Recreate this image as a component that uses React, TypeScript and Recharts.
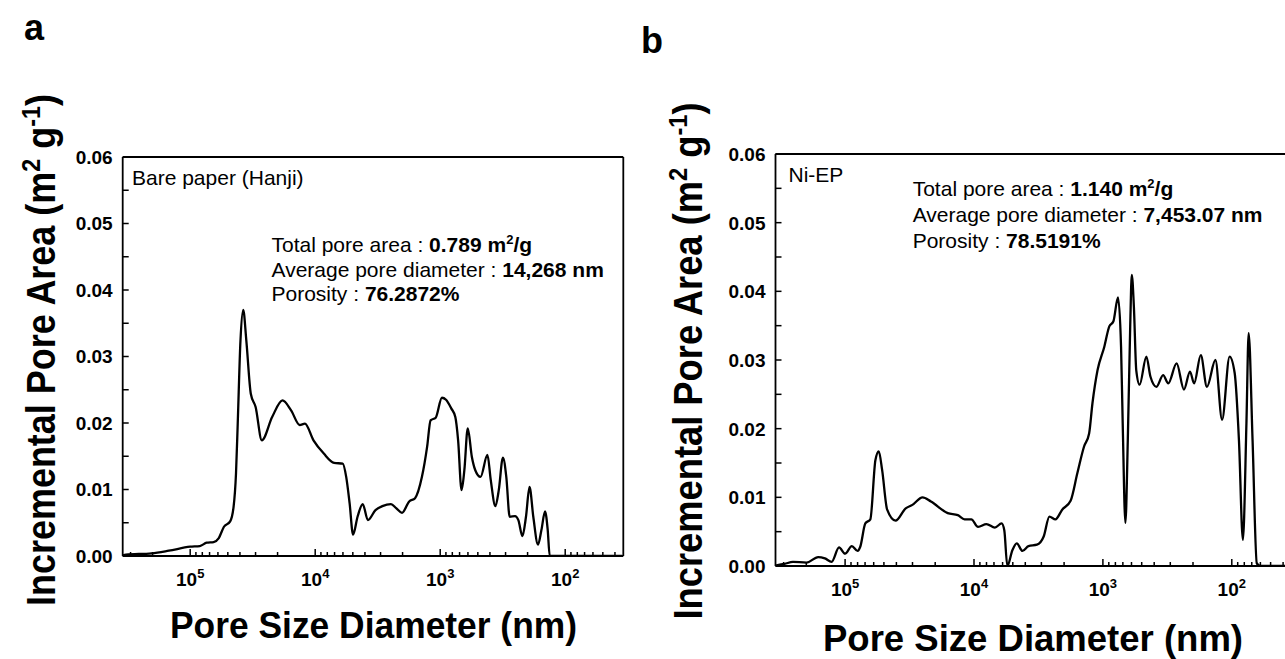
import { Line, LineChart, ReferenceLine, XAxis, YAxis } from "recharts";

const FONT = '"Liberation Sans", Arial, Helvetica, sans-serif';

// pore diameter (nm), listed left to right on the reversed log axis
const HANJI_DIAM = [
  345000, 327000, 203500, 148200, 100000, 83770, 73770, 64960, 59050, 53700,
  47900, 44970, 43010, 41670, 39610, 37650, 35560, 32750, 29970, 26730, 22100,
  18270, 15590, 13300, 12090, 10320, 8533, 7055, 6020, 5650, 5303, 4977, 4584,
  4167, 3789, 3295, 2902, 2477, 2252, 2022, 1770, 1589, 1400, 1273, 1194, 1086,
  969, 898, 816, 757, 719, 675, 641, 602, 558, 524, 476, 419, 394, 362, 340,
  315, 296, 278, 252, 237, 220, 206, 193, 180, 165, 155, 145, 138, 133, 35,
];
const HANJI_AREA = [
  0.0001, 0.0002, 0.0004, 0.0008, 0.0014, 0.0015, 0.002, 0.0021, 0.0027,
  0.0044, 0.0052, 0.0074, 0.0124, 0.0199, 0.0324, 0.037, 0.0324, 0.0244,
  0.0224, 0.0174, 0.0209, 0.0234, 0.0219, 0.0197, 0.0199, 0.0174, 0.0154,
  0.014, 0.0139, 0.0119, 0.0079, 0.0032, 0.0059, 0.0078, 0.0054, 0.0069,
  0.0075, 0.0078, 0.0072, 0.0065, 0.0082, 0.0087, 0.0119, 0.0164, 0.0204,
  0.0208, 0.0238, 0.0235, 0.0222, 0.0209, 0.0174, 0.0099, 0.0129, 0.0192,
  0.0149, 0.0129, 0.0119, 0.0152, 0.0114, 0.0075, 0.0099, 0.0148, 0.0119,
  0.0059, 0.006, 0.0054, 0.003, 0.0059, 0.0104, 0.0059, 0.0017, 0.0039,
  0.0067, 0.0039, 0, 0,
];

const NIEP_DIAM = [
  342900, 295100, 253900, 199700, 161800, 143500, 127200, 111400, 100000,
  88670, 80040, 76290, 69700, 63710, 58210, 54820, 51620, 47160, 40590, 33880,
  30050, 25090, 21590, 15990, 13350, 11830, 10490, 9305, 8004, 6889, 6107,
  5821, 5514, 5038, 4660, 4207, 3776, 3249, 2880, 2601, 2334, 2070, 1781,
  1579, 1400, 1279, 1205, 1101, 976, 892, 830, 763, 723, 702, 669, 641, 614,
  597, 575, 551, 519, 460, 428, 384, 341, 311, 268, 235, 211, 196, 174, 156,
  134, 119, 104, 95, 88, 82, 77, 74, 69, 64, 60, 35,
];
const NIEP_AREA = [
  0.0001, 0.0003, 0.0006, 0.0005, 0.0013, 0.0011, 0.0006, 0.0027, 0.0018,
  0.0029, 0.0022, 0.0028, 0.0062, 0.0068, 0.0154, 0.0167, 0.014, 0.0082,
  0.0066, 0.0084, 0.0089, 0.01, 0.0094, 0.0077, 0.0074, 0.0068, 0.0068,
  0.0057, 0.0061, 0.0056, 0.0062, 0.0052, 0, 0.0023, 0.0033, 0.0022, 0.0029,
  0.0031, 0.0043, 0.0072, 0.0068, 0.0082, 0.0095, 0.0135, 0.0174, 0.0193,
  0.0237, 0.0285, 0.0319, 0.0349, 0.0356, 0.0391, 0.0319, 0.0208, 0.0063,
  0.0183, 0.0349, 0.0424, 0.0378, 0.0285, 0.0264, 0.0305, 0.0276, 0.0261,
  0.0278, 0.0266, 0.0295, 0.0257, 0.0283, 0.0266, 0.0307, 0.0261, 0.03,
  0.0213, 0.0305, 0.0281, 0.0183, 0.0038, 0.0208, 0.0339, 0.0183, 0.0004, 0, 0,
];

const X_DOMAIN = [34.3, 346700];
const X_TICKS = [
  40, 50, 60, 70, 80, 90, 100, 200, 300, 400, 500, 600, 700, 800, 900, 1000,
  2000, 3000, 4000, 5000, 6000, 7000, 8000, 9000, 10000, 20000, 30000, 40000,
  50000, 60000, 70000, 80000, 90000, 100000, 200000, 300000,
];
const X_MAJOR = [100, 1000, 10000, 100000];
const Y_TICKS = [
  0, 0.005, 0.01, 0.015, 0.02, 0.025, 0.03, 0.035, 0.04, 0.045, 0.05, 0.055,
  0.06,
];

const toRows = (diam: number[], area: number[]) =>
  diam.map((d, i) => ({ d, v: area[i] }));

function XTick({ x, y, payload }: any) {
  const v = payload.value;
  const major = X_MAJOR.includes(v);
  return (
    <g>
      <line x1={x} x2={x} y1={y} y2={y - (major ? 7 : 4)} stroke="#000" strokeWidth={1.5} />
      {major && (
        <text x={x} y={y + 30} textAnchor="middle" fontSize={19} fontWeight="bold" fontFamily={FONT} fill="#000">
          10
          <tspan dy={-8} fontSize={13}>
            {Math.round(Math.log10(v))}
          </tspan>
        </text>
      )}
    </g>
  );
}

function YTick({ x, y, payload }: any) {
  const v = payload.value;
  const major = Math.round(v * 1000) % 10 === 0;
  return (
    <g>
      <line x1={x} x2={x + 6} y1={y} y2={y} stroke="#000" strokeWidth={1.5} />
      {major && (
        <text x={x - 10} y={y} dy="0.36em" textAnchor="end" fontSize={19} fontWeight="bold" fontFamily={FONT} fill="#000">
          {v.toFixed(2)}
        </text>
      )}
    </g>
  );
}

type PanelProps = {
  rows: { d: number; v: number }[];
  width: number;
  margin: { top: number; right: number; bottom: number; left: number };
};

function PorePanel({ rows, width, margin }: PanelProps) {
  return (
    <LineChart width={width} height={659} data={rows} margin={margin}>
      <XAxis
        dataKey="d"
        type="number"
        scale="log"
        domain={X_DOMAIN}
        allowDataOverflow
        reversed
        ticks={X_TICKS}
        interval={0}
        tickSize={0}
        tickMargin={0}
        height={30}
        tick={<XTick />}
        axisLine={{ stroke: "#000", strokeWidth: 1.8 }}
      />
      <YAxis
        type="number"
        domain={[0, 0.06]}
        allowDataOverflow
        ticks={Y_TICKS}
        interval={0}
        tickSize={0}
        tickMargin={0}
        width={60}
        tick={<YTick />}
        axisLine={{ stroke: "#000", strokeWidth: 1.8 }}
      />
      <ReferenceLine y={0.06} stroke="#000" strokeWidth={1.8} />
      <ReferenceLine x={X_DOMAIN[0]} stroke="#000" strokeWidth={1.8} />
      <Line
        dataKey="v"
        type="monotone"
        stroke="#000"
        strokeWidth={2.3}
        dot={false}
        activeDot={false}
        isAnimationActive={false}
      />
    </LineChart>
  );
}

const TXT = { fontFamily: FONT, fill: "#000" };

function Notes() {
  return (
    <svg width={1285} height={659} style={{ position: "absolute", left: 0, top: 0, pointerEvents: "none" }}>
      <g {...TXT} fontWeight="bold">
        <text x={24} y={40} fontSize={36}>a</text>
        <text x={641} y={53} fontSize={36}>b</text>

        <text transform="translate(55,350) rotate(-90)" textAnchor="middle" fontSize={40} textLength={512} lengthAdjust="spacingAndGlyphs">
          Incremental Pore Area (m<tspan dy={-15} fontSize={26}>2</tspan>
          <tspan dy={15}> g</tspan>
          <tspan dy={-15} fontSize={26}>-1</tspan>
          <tspan dy={15}>)</tspan>
        </text>
        <text transform="translate(702,361) rotate(-90)" textAnchor="middle" fontSize={40} textLength={517} lengthAdjust="spacingAndGlyphs">
          Incremental Pore Area (m<tspan dy={-15} fontSize={26}>2</tspan>
          <tspan dy={15}> g</tspan>
          <tspan dy={-15} fontSize={26}>-1</tspan>
          <tspan dy={15}>)</tspan>
        </text>

        <text x={373.5} y={638} textAnchor="middle" fontSize={36} textLength={407} lengthAdjust="spacingAndGlyphs">
          Pore Size Diameter (nm)
        </text>
        <text x={1033} y={651} textAnchor="middle" fontSize={36} textLength={420} lengthAdjust="spacingAndGlyphs">
          Pore Size Diameter (nm)
        </text>
      </g>

      <g {...TXT} fontSize={21}>
        <text x={132} y={185}>Bare paper (Hanji)</text>
        <text x={271.5} y={251.7}>
          Total pore area : <tspan fontWeight="bold">0.789 m</tspan>
          <tspan fontWeight="bold" fontSize={13} dy={-8}>2</tspan>
          <tspan fontWeight="bold" dy={8}>/g</tspan>
        </text>
        <text x={271.5} y={276.5}>
          Average pore diameter : <tspan fontWeight="bold">14,268 nm</tspan>
        </text>
        <text x={271.5} y={301.3}>
          Porosity : <tspan fontWeight="bold">76.2872%</tspan>
        </text>

        <text x={788.5} y={182}>Ni-EP</text>
        <text x={912.7} y={196}>
          Total pore area : <tspan fontWeight="bold">1.140 m</tspan>
          <tspan fontWeight="bold" fontSize={13} dy={-8}>2</tspan>
          <tspan fontWeight="bold" dy={8}>/g</tspan>
        </text>
        <text x={912.7} y={222}>
          Average pore diameter : <tspan fontWeight="bold">7,453.07 nm</tspan>
        </text>
        <text x={912.7} y={248}>
          Porosity : <tspan fontWeight="bold">78.5191%</tspan>
        </text>
      </g>
    </svg>
  );
}

export default function App() {
  return (
    <div style={{ position: "absolute", left: 0, top: 0, width: 1285, height: 659, overflow: "hidden", background: "#fff" }}>
      <div style={{ position: "absolute", left: 0, top: 0 }}>
        <PorePanel
          rows={toRows(HANJI_DIAM, HANJI_AREA)}
          width={640}
          margin={{ top: 157, right: 16.7, bottom: 73, left: 62.7 }}
        />
      </div>
      <div style={{ position: "absolute", left: 640, top: 0 }}>
        <PorePanel
          rows={toRows(NIEP_DIAM, NIEP_AREA)}
          width={680}
          margin={{ top: 154, right: 28.3, bottom: 63, left: 75.5 }}
        />
      </div>
      <Notes />
    </div>
  );
}
